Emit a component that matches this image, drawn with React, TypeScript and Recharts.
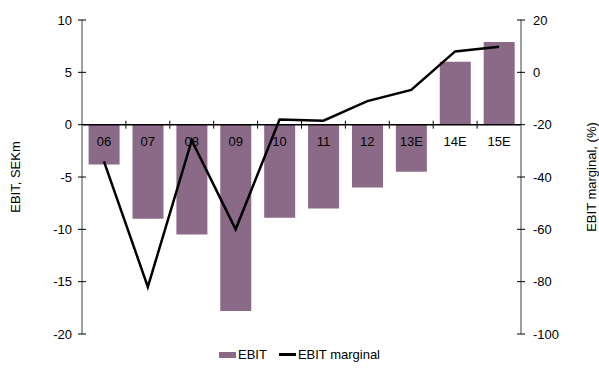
import React from 'react';
import { ComposedChart, Bar, Line, XAxis, YAxis, ReferenceLine } from 'recharts';

const categories = ['06', '07', '08', '09', '10', '11', '12', '13E', '14E', '15E'];
const ebit = [-3.8, -9, -10.5, -17.8, -8.9, -8, -6, -4.5, 6, 7.9];
const ebitMargin = [-34, -82, -26, -60, -18, -18.5, -11, -6.7, 8, 9.8];
const leftTicks = [-20, -15, -10, -5, 0, 5, 10];
const rightTicks = [-100, -80, -60, -40, -20, 0, 20];

const data = categories.map((cat, i) => ({ cat, ebit: ebit[i], margin: ebitMargin[i] }));

const W = 599;
const H = 369;
const LEFT_W = 82;
const RIGHT_W = 78;
const TOP = 20;
const BOTTOM = 34;
const X_H = 1;
const plotH = H - TOP - BOTTOM - X_H;
const band = (W - LEFT_W - RIGHT_W) / categories.length;
const zeroY = TOP + plotH * (10 / 30);

const FONT = 'Liberation Sans, Arial, sans-serif';
const BAR_COLOR = '#8b6a88';
const AXIS_COLOR = '#7f7f7f';

// category labels sit just under the zero line, with small ticks between bars
const CategoryTick = (props: any) => {
  const { x, payload } = props;
  const i = categories.indexOf(String(payload.value));
  const bx = Number(x) + band / 2;
  return (
    <g>
      <text x={x} y={zeroY + 21} textAnchor='middle' fontSize={13} fontFamily={FONT} fill='#000'>
        {payload.value}
      </text>
      {i !== categories.length - 1 ? (
        <path d={`M${bx},${zeroY - 4}L${bx},${zeroY + 4}`} stroke='#000' strokeWidth={1} fill='none' />
      ) : null}
    </g>
  );
};

const LeftTick = (props: any) => {
  const { x, y, payload } = props;
  return (
    <g>
      <path d={`M${x - 4},${y}L${x + 4},${y}`} stroke='#000' strokeWidth={1} fill='none' />
      <text x={x - 10} y={y + 4.5} textAnchor='end' fontSize={13} fontFamily={FONT} fill='#000'>
        {payload.value}
      </text>
    </g>
  );
};

const RightTick = (props: any) => {
  const { x, y, payload } = props;
  return (
    <g>
      <path d={`M${x - 4},${y}L${x + 4},${y}`} stroke='#000' strokeWidth={1} fill='none' />
      <text x={x + 12} y={y + 4.5} textAnchor='start' fontSize={13} fontFamily={FONT} fill='#000'>
        {payload.value}
      </text>
    </g>
  );
};

const App: React.FC = () => {
  return (
    <div style={{ position: 'relative', width: W, height: H, fontFamily: FONT }}>
      <style>{'body{margin:0}'}</style>
      <ComposedChart
        width={W}
        height={H}
        data={data}
        margin={{ top: TOP, right: 0, bottom: BOTTOM, left: 0 }}
        barCategoryGap='15%'>
        <XAxis
          dataKey='cat'
          height={X_H}
          axisLine={false}
          tickLine={false}
          tickSize={0}
          tickMargin={0}
          interval={0}
          tick={<CategoryTick />}
        />
        <YAxis
          yAxisId='left'
          orientation='left'
          width={LEFT_W}
          domain={[-20, 10]}
          ticks={leftTicks}
          interval={0}
          tickSize={0}
          tickMargin={0}
          tickLine={false}
          axisLine={{ stroke: AXIS_COLOR, strokeWidth: 1.5 }}
          tick={<LeftTick />}
          label={{
            value: 'EBIT, SEKm',
            angle: -90,
            position: 'insideLeft',
            offset: 15,
            style: { textAnchor: 'middle', fontSize: 13, fontFamily: FONT, fill: '#000' },
          }}
        />
        <YAxis
          yAxisId='right'
          orientation='right'
          width={RIGHT_W}
          domain={[-100, 20]}
          ticks={rightTicks}
          interval={0}
          tickSize={0}
          tickMargin={0}
          tickLine={false}
          axisLine={{ stroke: AXIS_COLOR, strokeWidth: 1.5 }}
          tick={<RightTick />}
          label={{
            value: 'EBIT marginal, (%)',
            angle: -90,
            position: 'insideRight',
            offset: 8,
            style: { textAnchor: 'middle', fontSize: 13, fontFamily: FONT, fill: '#000' },
          }}
        />
        <Bar yAxisId='left' dataKey='ebit' fill={BAR_COLOR} isAnimationActive={false} />
        <ReferenceLine yAxisId='left' y={0} stroke='#000' strokeWidth={1.5} />
        <Line
          yAxisId='right'
          dataKey='margin'
          stroke='#000'
          strokeWidth={2.5}
          dot={false}
          type='linear'
          isAnimationActive={false}
        />
      </ComposedChart>
      <div
        style={{
          position: 'absolute',
          top: 347,
          left: 0,
          width: W,
          display: 'flex',
          justifyContent: 'center',
          alignItems: 'center',
          fontSize: 13,
          color: '#000',
        }}>
        <span style={{ display: 'inline-block', width: 17, height: 6, background: BAR_COLOR, marginRight: 2 }} />
        <span style={{ marginRight: 12 }}>EBIT</span>
        <span style={{ display: 'inline-block', width: 17, height: 2.5, background: '#000', marginRight: 2 }} />
        <span>EBIT marginal</span>
      </div>
    </div>
  );
};

export default App;
